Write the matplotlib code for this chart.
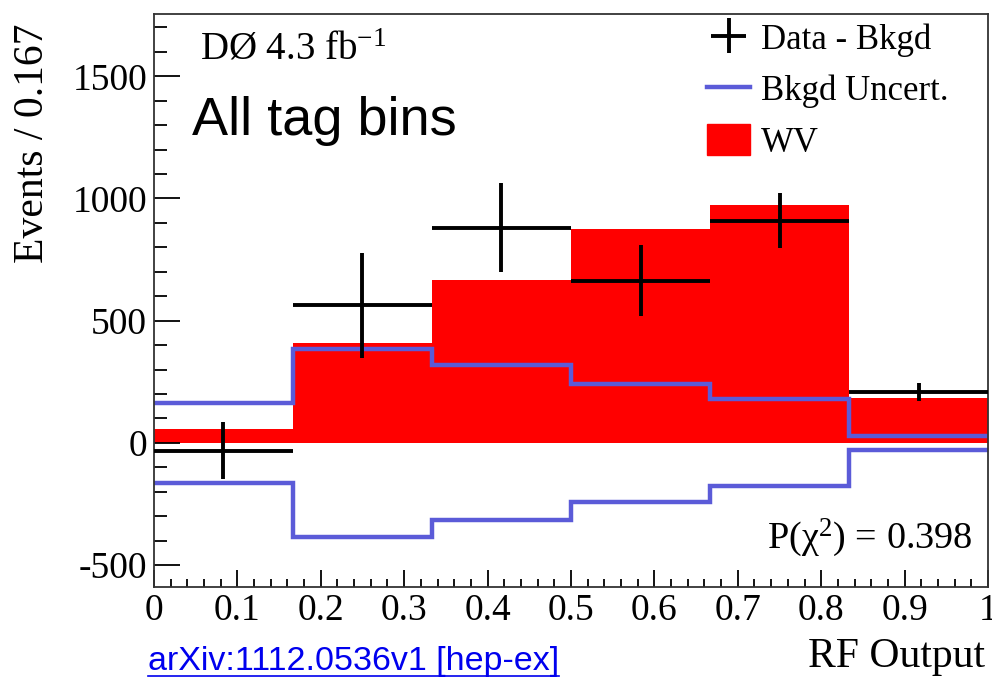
import numpy as np
import matplotlib.pyplot as plt
from matplotlib.ticker import MultipleLocator
from matplotlib.lines import Line2D

plt.rcParams['font.family'] = ['Liberation Serif', 'DejaVu Serif']
plt.rcParams['mathtext.fontset'] = 'custom'
plt.rcParams['mathtext.rm'] = 'Liberation Serif'
plt.rcParams['mathtext.it'] = 'Liberation Serif:italic'
plt.rcParams['mathtext.default'] = 'regular'

# RF output bins (width 1/6)
edges = np.linspace(0, 1, 7)
centers = 0.5 * (edges[:-1] + edges[1:])

# WV signal expectation
wv = [57, 410, 666, 874, 973, 185]
# data minus background and its uncertainty
data_sub = [-32, 562, 880, 664, 909, 208]
data_err = [118, 215, 182, 145, 112, 37]
# background systematic uncertainty band
bkgd_unc = [163, 384, 317, 241, 178, 29]

blue = '#5b5bd8'

fig = plt.figure(figsize=(9.92, 6.78), dpi=100)
ax = fig.add_axes([0.1552, 0.1342, 0.8408, 0.8452])

ax.bar(edges[:-1], wv, width=1/6, align='edge', color='#ff0000', lw=0, zorder=1)
ax.stairs(bkgd_unc, edges, baseline=None, color=blue, lw=3.2, zorder=2)
ax.stairs(-np.array(bkgd_unc), edges, baseline=None, color=blue, lw=3.2, zorder=2)
eb = ax.errorbar(centers, data_sub, xerr=1/12, yerr=data_err, fmt='none',
                 ecolor='black', elinewidth=2.8, capsize=0, zorder=3)

ax.set_xlim(0, 1)
ax.set_ylim(-590, 1755)
ax.xaxis.set_minor_locator(MultipleLocator(0.02))
ax.yaxis.set_minor_locator(MultipleLocator(100))
ax.set_xticks(np.arange(0, 1.01, 0.1))
ax.set_xticklabels(['0', '0.1', '0.2', '0.3', '0.4', '0.5', '0.6', '0.7', '0.8', '0.9', '1'])
ax.set_yticks([-500, 0, 500, 1000, 1500])
ax.set_yticklabels(['-500', '0', '500', '1000', '1500'])
ax.tick_params(axis='x', which='major', direction='in', length=12, width=1.3, labelsize=27, pad=5)
ax.tick_params(axis='x', which='minor', direction='in', length=6, width=1.3)
ax.tick_params(axis='y', which='major', direction='in', length=19, width=1.3, labelsize=27, pad=5)
ax.tick_params(axis='y', which='minor', direction='in', length=9, width=1.3)
for sp in ax.spines.values():
    sp.set_linewidth(1.3)
    sp.set_color('#333333')

fig.text(0.033, 0.966, 'Events / 0.167', rotation=90, ha='center', va='top', fontsize=30)
fig.text(985/992, 1 - 667/678, 'RF Output', ha='right', va='baseline', fontsize=30)

ax.text(200/992, 1 - 60/678, r'DØ 4.3 $\mathrm{fb}^{-1}$', transform=fig.transFigure,
        ha='left', va='baseline', fontsize=28)
ax.text(192/992, 1 - 135/678, 'All tag bins', transform=fig.transFigure,
        ha='left', va='baseline', fontsize=39, family='Liberation Sans')
ax.text(973/992, 1 - 548/678, r'P($\chi^{2}$) = 0.398', transform=fig.transFigure,
        ha='right', va='baseline', fontsize=27.5)

handles = [eb,
           Line2D([], [], color=blue, lw=3.2),
           plt.Rectangle((0, 0), 1, 1, color='#ff0000')]
ax.legend(handles, ['Data - Bkgd', 'Bkgd Uncert.', 'WV'], loc='upper left',
          bbox_to_anchor=(707/992, 1 - 22/678), bbox_transform=fig.transFigure,
          frameon=False, fontsize=25, borderpad=0, borderaxespad=0,
          handlelength=1.25, handleheight=1.0, handletextpad=0.3, labelspacing=0.45)

# link-style reference under the plot
ref = fig.text(148/992, 1 - 670/678, 'arXiv:1112.0536v1 [hep-ex]', ha='left', va='baseline',
               fontsize=24.5, family='Liberation Sans', color='#0000ee')
fig.canvas.draw()
bb = ref.get_window_extent().transformed(fig.transFigure.inverted())
fig.add_artist(Line2D([bb.x0, bb.x1], [1 - 676/678, 1 - 676/678], color='#0000ee', lw=1.2,
                      transform=fig.transFigure))

fig.savefig('out.png', dpi=100)
